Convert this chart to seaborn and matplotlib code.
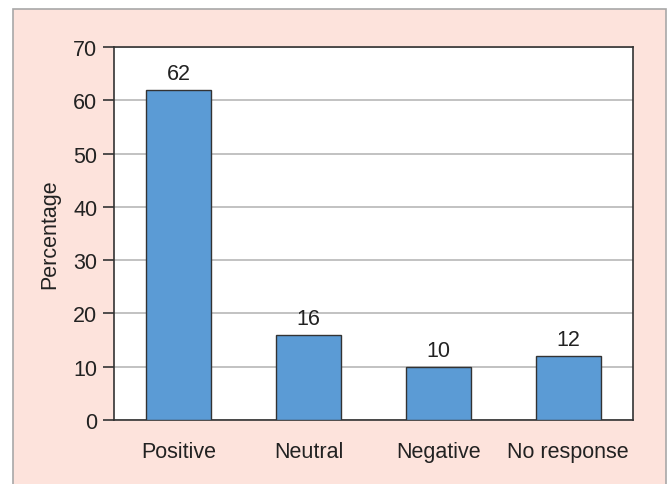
import matplotlib
matplotlib.use("Agg")
import matplotlib.pyplot as plt
from matplotlib.patches import Rectangle
import seaborn as sns
import pandas as pd

categories = ["Positive", "Neutral", "Negative", "No response"]
percentages = [62, 16, 10, 12]
y_ticks = [0, 10, 20, 30, 40, 50, 60, 70]

df = pd.DataFrame({"Response": categories, "Percentage": percentages})

sns.set_theme(style="white")
plt.rcParams["font.family"] = ["Liberation Sans", "DejaVu Sans"]

FS = 15.5

fig = plt.figure(figsize=(6.69, 4.85), dpi=100)
fig.patch.set_facecolor("white")

# pink panel behind the chart
panel = Rectangle((13 / 669, -0.05), (666 - 13) / 669, (485 - 10) / 485 + 0.05,
                  transform=fig.transFigure, facecolor="#fde3dc",
                  edgecolor="#a8a8a8", linewidth=1.2, zorder=-5)
fig.patches.append(panel)

ax = fig.add_axes([114 / 669, (485 - 421) / 485, (633 - 114) / 669, (421 - 48) / 485])
ax.set_zorder(1)
ax.set_facecolor("white")

sns.barplot(data=df, x="Response", y="Percentage", ax=ax, color="#5b9bd5",
            saturation=1, width=0.5, edgecolor="#333333", linewidth=1.0, zorder=3)

for i, v in enumerate(percentages):
    ax.text(i, v + 1.1, str(v), ha="center", va="bottom", fontsize=FS, color="#222222")

ax.set_ylim(0, 70)
ax.set_xlim(-0.5, 3.5)
ax.set_yticks(y_ticks)
ax.yaxis.grid(True, color="#bdbdbd", linewidth=1.3, zorder=0)
ax.set_axisbelow(True)

for s in ax.spines.values():
    s.set_color("#333333")
    s.set_linewidth(1.2)
    s.set_visible(True)

ax.tick_params(axis="y", which="both", left=True, length=8, width=1.2, color="#333333",
               labelsize=FS, labelcolor="#222222", pad=4)
ax.tick_params(axis="x", bottom=False, labelsize=FS, labelcolor="#222222", pad=9)

ax.set_xlabel("")
ax.set_ylabel("Percentage", fontsize=FS, color="#222222", labelpad=9)

fig.savefig("out.png", dpi=100)
